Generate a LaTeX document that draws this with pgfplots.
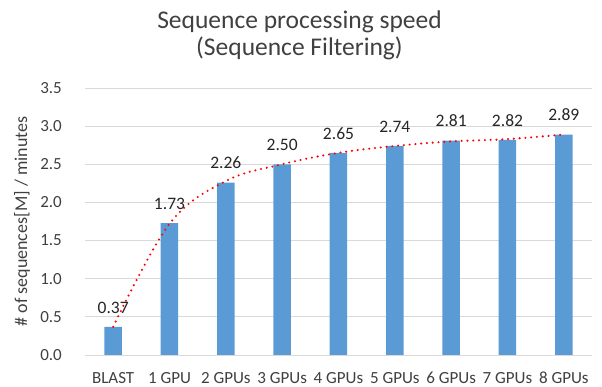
\documentclass[border=0pt]{standalone}
\usepackage{pgfplots}
\pgfplotsset{compat=1.18}
\usepackage{fontspec}
\setmainfont{Carlito}
\definecolor{barblue}{HTML}{5B9BD5}
\definecolor{gridgray}{HTML}{D9D9D9}
\definecolor{txtgray}{HTML}{404040}
\begin{document}
\begin{tikzpicture}[x=1pt,y=1pt]
\useasboundingbox (-85,-32) rectangle (517,355);
\begin{axis}[
  at={(0,0)}, anchor=south west,
  scale only axis, width=507pt, height=267pt,
  xmin=-0.5, xmax=8.5, ymin=0, ymax=3.5,
  xtick={0,...,8},
  xticklabels={BLAST,1 GPU,2 GPUs,3 GPUs,4 GPUs,5 GPUs,6 GPUs,7 GPUs,8 GPUs},
  ytick={0,0.5,...,3.5},
  yticklabels={},
  ymajorgrids, grid style={gridgray, line width=0.9pt},
  axis line style={draw=none},
  major tick length=0pt,
  every tick label/.append style={font=\fontsize{17}{20}\selectfont, text=txtgray},
  every x tick label/.append style={text height=24.5pt},
  every axis y label/.style={at={(axis description cs:0,0.5)}, rotate=90, anchor=center, yshift=63pt},
  ylabel={\# of sequences[M] / minutes},
  ylabel style={font=\fontsize{18}{20}\selectfont, text=txtgray},
  title={Sequence processing speed\\(Sequence Filtering)},
  title style={font=\fontsize{25.5}{27}\selectfont, align=center, text=txtgray, yshift=19pt, xshift=-39pt},
  clip=false,
]
\addplot[ybar, bar width=17.5pt, fill=barblue, draw=none,
  nodes near coords, point meta=explicit symbolic,
  every node near coord/.append style={font=\fontsize{17.5}{20}\selectfont, text=black!85, yshift=10pt}]
  table[meta=label] {
x y label
0 0.37 0.37
1 1.73 1.73
2 2.26 2.26
3 2.50 2.50
4 2.65 2.65
5 2.74 2.74
6 2.81 2.81
7 2.82 2.82
8 2.89 2.89
};
\addplot[red, line width=2.3pt, dash pattern=on 0pt off 5.8pt, line cap=round, smooth, tension=0.6]
  coordinates {(0,0.37) (1,1.72) (2,2.28) (3,2.50) (4,2.65) (5,2.74) (6,2.80) (7,2.83) (8,2.89)};
\begin{scope}[every node/.style={anchor=east, inner sep=0pt, font=\fontsize{17}{20}\selectfont, text=txtgray}]
\node at (axis cs:-0.908,0) {0.0};
\node at (axis cs:-0.908,0.5) {0.5};
\node at (axis cs:-0.908,1) {1.0};
\node at (axis cs:-0.908,1.5) {1.5};
\node at (axis cs:-0.908,2) {2.0};
\node at (axis cs:-0.908,2.5) {2.5};
\node at (axis cs:-0.908,3) {3.0};
\node at (axis cs:-0.908,3.5) {3.5};
\end{scope}
\end{axis}
\end{tikzpicture}
\end{document}
